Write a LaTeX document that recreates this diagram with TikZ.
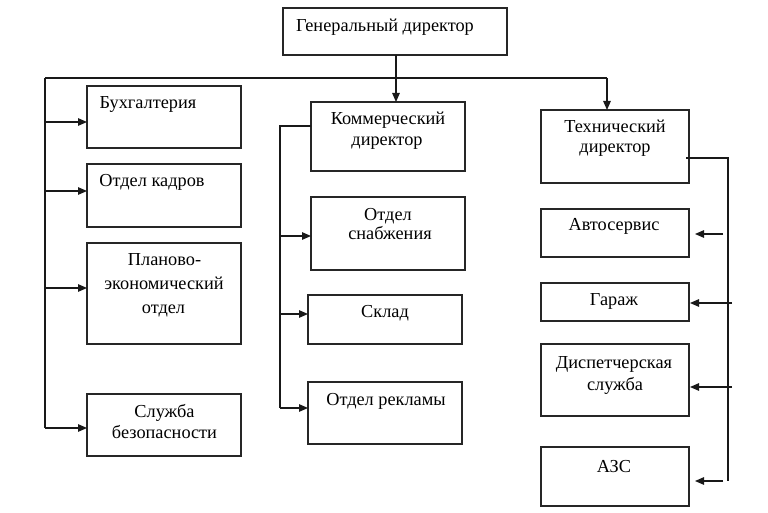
\documentclass[tikz,border=0pt]{standalone}
\usepackage{fontspec}
\setmainfont{Liberation Serif}
\usetikzlibrary{arrows.meta}
\begin{document}
\begin{tikzpicture}[x=1pt,y=-1pt,
  box/.style={draw=black!85, line width=1.2pt, anchor=north west, inner sep=0pt, outer sep=0pt},
  lbl/.style={anchor=base, inner sep=0pt, font=\fontsize{18.3}{21}\selectfont, text=black},
  conn/.style={draw=black!90, line width=1.2pt},
  arr/.style={conn, -{Triangle[length=9pt,width=7.5pt]}}]
\useasboundingbox (0,0) rectangle (768,513);
\fill[white] (0,0) rectangle (768,513);
% boxes
\node[box, minimum width=224, minimum height=47] (gd) at (283,8) {};
\node[box, minimum width=154, minimum height=62] (buh) at (87,86) {};
\node[box, minimum width=154, minimum height=63] (kad) at (87,164) {};
\node[box, minimum width=154, minimum height=101] (plan) at (87,243) {};
\node[box, minimum width=154, minimum height=62] (slu) at (87,394) {};
\node[box, minimum width=154, minimum height=69] (com) at (311,102) {};
\node[box, minimum width=154, minimum height=73] (sna) at (311,197) {};
\node[box, minimum width=154, minimum height=49] (skl) at (308,295) {};
\node[box, minimum width=154, minimum height=62] (rek) at (308,382) {};
\node[box, minimum width=148, minimum height=73] (tech) at (541,110) {};
\node[box, minimum width=148, minimum height=48] (avto) at (541,209) {};
\node[box, minimum width=148, minimum height=38] (gar) at (541,283) {};
\node[box, minimum width=148, minimum height=72] (disp) at (541,344) {};
\node[box, minimum width=148, minimum height=59] (azs) at (541,447) {};
% labels
\node[lbl] (tgd) at (385,32) {Генеральный директор};
\node[lbl] (tbuh) at (148,109) {Бухгалтерия};
\node[lbl] (tkad) at (152,187) {Отдел кадров};
\node[lbl] (tplan1) at (164.5,265) {Планово-};
\node[lbl] (tplan2) at (164,289) {экономический};
\node[lbl] (tplan3) at (163.5,313) {отдел};
\node[lbl] (tslu1) at (164.5,417) {Служба};
\node[lbl] (tslu2) at (164.5,438) {безопасности};
\node[lbl] (tcom1) at (388,125) {Коммерческий};
\node[lbl] (tcom2) at (387,146) {директор};
\node[lbl] (tsna1) at (388,221) {Отдел};
\node[lbl] (tsna2) at (390,240) {снабжения};
\node[lbl] (tskl) at (385,317) {Склад};
\node[lbl] (trek) at (386,405) {Отдел рекламы};
\node[lbl] (ttech1) at (615,133) {Технический};
\node[lbl] (ttech2) at (615,153) {директор};
\node[lbl] (tavto) at (614,230) {Автосервис};
\node[lbl] (tgar) at (614,305) {Гараж};
\node[lbl] (tdisp1) at (614,368) {Диспетчерская};
\node[lbl] (tdisp2) at (615,390) {служба};
\node[lbl] (tazs) at (614,472) {АЗС};
% top bus
\coordinate (gdx) at (396,55);
\coordinate (busL) at (45,78);
\coordinate (busR) at (607,78);
\draw[arr] (gdx) -- (gdx |- com.north);
\draw[conn] (busL) -- (busR);
\draw[arr] (busR) -- (busR |- tech.north);
% left branch
\coordinate (l1) at (45,122);
\coordinate (l2) at (45,191);
\coordinate (l3) at (45,288);
\coordinate (l4) at (45,428);
\draw[conn] (busL) -- (l4);
\draw[arr] (l1) -- (l1 -| buh.west);
\draw[arr] (l2) -- (l2 -| kad.west);
\draw[arr] (l3) -- (l3 -| plan.west);
\draw[arr] (l4) -- (l4 -| slu.west);
% middle branch
\coordinate (m0) at (280,126);
\coordinate (m1) at (280,236);
\coordinate (m2) at (280,314);
\coordinate (m3) at (280,408);
\draw[conn] (m0 -| com.west) -- (m0) -- (m3);
\draw[arr] (m1) -- (m1 -| sna.west);
\draw[arr] (m2) -- (m2 -| skl.west);
\draw[arr] (m3) -- (m3 -| rek.west);
% right branch
\coordinate (r0) at (728,158);
\coordinate (r4b) at (728,481);
\draw[conn] (686,158) -- (r0) -- (r4b);
\coordinate (r1) at (723,234);
\coordinate (r2) at (732,303);
\coordinate (r3) at (732,387);
\coordinate (r4) at (723,481);
\draw[arr] (r1) -- ([xshift=6pt]r1 -| avto.east);
\draw[arr] (r2) -- ([xshift=1pt]r2 -| gar.east);
\draw[arr] (r3) -- ([xshift=1pt]r3 -| disp.east);
\draw[arr] (r4) -- ([xshift=6pt]r4 -| azs.east);
\end{tikzpicture}
\end{document}
